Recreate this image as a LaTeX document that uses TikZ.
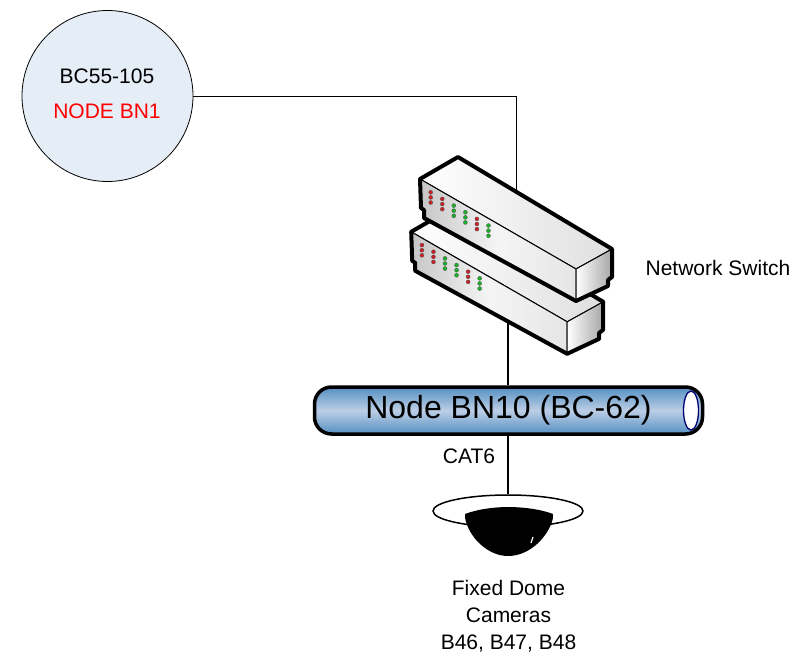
\documentclass[tikz,border=0pt]{standalone}
\usepackage{fontspec}
\setmainfont{Liberation Sans}
\usepackage{tikz}
\usetikzlibrary{shapes.geometric}
\definecolor{circlefill}{rgb}{0.90, 0.93, 0.97}
\definecolor{pipedark}{rgb}{0.33, 0.56, 0.76}
\definecolor{pipelight}{rgb}{0.74, 0.81, 0.90}
\definecolor{ledgreen}{rgb}{0.10, 0.70, 0.15}
\definecolor{ledred}{rgb}{0.80, 0.12, 0.15}
\tikzset{
	smalltext/.style={font=\fontsize{21}{27}\selectfont, align=center},
	pipenode/.style={draw, line width=3.5pt, rounded corners=17pt, minimum width=388pt, minimum height=47pt, top color=pipedark, bottom color=pipedark, middle color=pipelight, font=\fontsize{32}{36}\selectfont},
	swface/.style={draw, line width=1pt, line join=round},
	swedge/.style={draw, line width=4pt, line join=round},
}

\begin{document}
\begin{tikzpicture}[x=1pt,y=-1pt]
			\useasboundingbox (0,0) rectangle (797,658);
			\node[draw, circle, line width=0.8pt, fill=circlefill, minimum size=171pt] (hub) at (107.5,96) {};
			\node[smalltext] (hubname) at (107,76) {BC55-105};
			\node[smalltext, text=red] (hubnode) at (107,111) {NODE BN1};
			\node[pipenode] (pipe) at (508.5,410.5) {Node BN10 (BC-62)};
			\node[draw, ellipse, line width=1.3pt, fill=white, draw=blue!45!black, minimum width=15pt, minimum height=39pt, inner sep=0pt] (pipeend) at (691,410.5) {};
			\node[draw, ellipse, line width=1.5pt, fill=white, minimum width=150pt, minimum height=32pt] (ring) at (508,511) {};
			\coordinate (swtop) at (516,195);
			\coordinate (swlow) at (508,322);
			\draw[line width=0.8pt] (hub.east) -| (swtop);
			\draw[line width=1.6pt] (swlow) -- (pipe.north -| swlow);
			\draw[line width=1.6pt] (pipe.south -| ring.north) -- (ring.north);
			\foreach \dx/\dy in {-8.8/52.8, 0/0} {
				\begin{scope}[shift={(\dx,\dy)}]
					\path[swface, left color=white, right color=gray!25] (458,157) -- (612,249) -- (576,269) -- (420,179) -- cycle;
					\path[swface, left color=gray!45, right color=gray!20, middle color=gray!8] (420,179) -- (576,269) -- (576,301) -- (424,218) -- (424,210) -- (421,208) -- cycle;
					\path[swface, left color=white, right color=gray!70] (576,269) -- (612,249) -- (612,277) -- (608,280) -- (608,286) -- (576,301) -- cycle;
					\path[swedge] (420,179) -- (458,157) -- (612,249) -- (612,277) -- (608,280) -- (608,286) -- (576,301) -- (424,218) -- (424,210) -- (421,208) -- cycle;
					\foreach \ledcol [count=\i from 0] in {ledred,ledred,ledgreen,ledgreen,ledred,ledgreen} {
						\foreach \j in {0,1,2} {
							\filldraw[fill=\ledcol, draw=gray!60!black, line width=0.3pt] (430.7+11.55*\i,192.3+6.65*\i+5.1*\j) circle (2);
						}
					}
				\end{scope}
			}
			\fill (465,514) .. controls (478,509) and (495,507) .. (508,507) .. controls (522,507) and (540,509) .. (553,514) .. controls (553,517) and (553,519) .. (552,522) .. controls (545,541) and (527,556) .. (508,556) .. controls (490,556) and (472,541) .. (466,522) .. controls (465,519) and (465,517) .. (465,514);
			\draw[white, line width=1.2pt] (533,537) -- (531,543);
			\node[smalltext] (swlabel) at (718,268) {Network Switch};
			\node[smalltext] (cablelabel) at (469,456) {CAT6};
			\node[smalltext] (camlabel) at (508.5,616) {Fixed Dome\\Cameras\\B46, B47, B48};
		\end{tikzpicture}
\end{document}
